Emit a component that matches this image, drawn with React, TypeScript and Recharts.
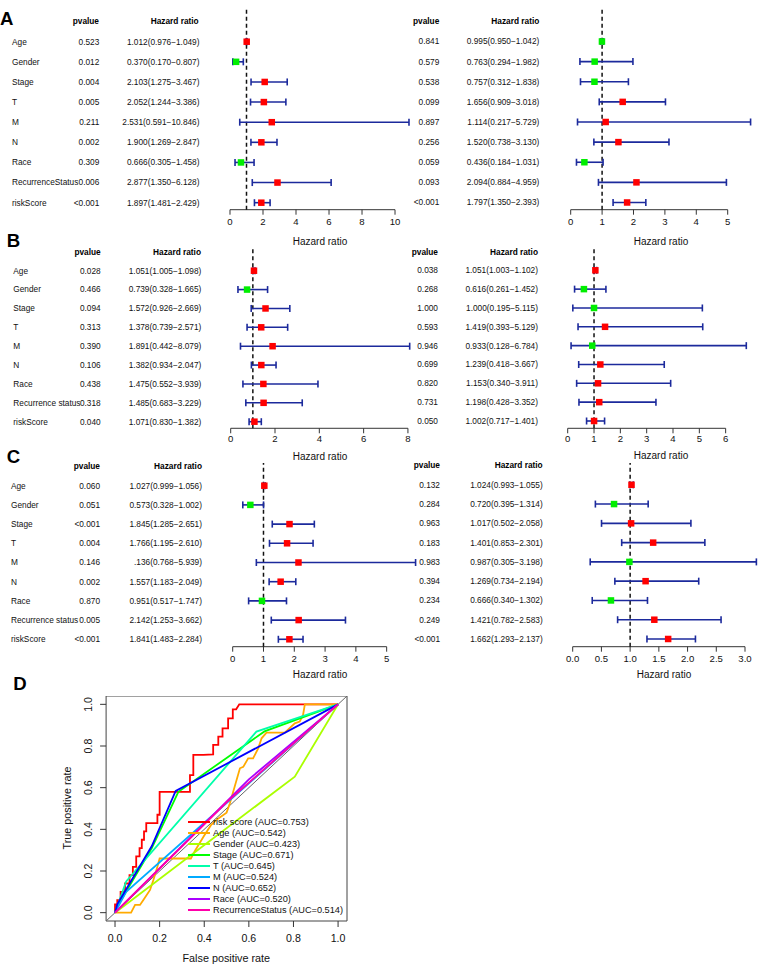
import React from 'react';
import {
  ScatterChart, Scatter, XAxis, YAxis, ErrorBar, ReferenceLine, ReferenceArea,
  LineChart, Line, Legend,
} from 'recharts';

const FONT = "'Liberation Sans', Arial, Helvetica, sans-serif";

// ---- forest plot data ----
const varsA = ['Age', 'Gender', 'Stage', 'T', 'M', 'N', 'Race', 'RecurrenceStatus', 'riskScore'];
const varsBC = ['Age', 'Gender', 'Stage', 'T', 'M', 'N', 'Race', 'Recurrence status', 'riskScore'];

// A - univariate / multivariate
const aUniP = ['0.523', '0.012', '0.004', '0.005', '0.211', '0.002', '0.309', '0.006', '<0.001'];
const aUniHR = [1.012, 0.370, 2.103, 2.052, 2.531, 1.900, 0.666, 2.877, 1.897];
const aUniLo = [0.976, 0.170, 1.275, 1.244, 0.591, 1.269, 0.305, 1.350, 1.481];
const aUniHi = [1.049, 0.807, 3.467, 3.386, 10.846, 2.847, 1.458, 6.128, 2.429];

const aMulP = ['0.841', '0.579', '0.538', '0.099', '0.897', '0.256', '0.059', '0.093', '<0.001'];
const aMulHR = [0.995, 0.763, 0.757, 1.656, 1.114, 1.520, 0.436, 2.094, 1.797];
const aMulLo = [0.950, 0.294, 0.312, 0.909, 0.217, 0.738, 0.184, 0.884, 1.350];
const aMulHi = [1.042, 1.982, 1.838, 3.018, 5.729, 3.130, 1.031, 4.959, 2.393];

// B
const bUniP = ['0.028', '0.466', '0.094', '0.313', '0.390', '0.106', '0.438', '0.318', '0.040'];
const bUniHR = [1.051, 0.739, 1.572, 1.378, 1.891, 1.382, 1.475, 1.485, 1.071];
const bUniLo = [1.005, 0.328, 0.926, 0.739, 0.442, 0.934, 0.552, 0.683, 0.830];
const bUniHi = [1.098, 1.665, 2.669, 2.571, 8.079, 2.047, 3.939, 3.229, 1.382];

const bMulP = ['0.038', '0.268', '1.000', '0.593', '0.946', '0.699', '0.820', '0.731', '0.050'];
const bMulHR = [1.051, 0.616, 1.000, 1.419, 0.933, 1.239, 1.153, 1.198, 1.002];
const bMulLo = [1.003, 0.261, 0.195, 0.393, 0.128, 0.418, 0.340, 0.428, 0.717];
const bMulHi = [1.102, 1.452, 5.115, 5.129, 6.784, 3.667, 3.911, 3.352, 1.401];

// C
const cUniP = ['0.060', '0.051', '<0.001', '0.004', '0.146', '0.002', '0.870', '0.005', '<0.001'];
const cUniHR = [1.027, 0.573, 1.845, 1.766, 2.136, 1.557, 0.951, 2.142, 1.841];
const cUniLo = [0.999, 0.328, 1.285, 1.195, 0.768, 1.183, 0.517, 1.253, 1.483];
const cUniHi = [1.056, 1.002, 2.651, 2.610, 5.939, 2.049, 1.747, 3.662, 2.284];

const cMulP = ['0.132', '0.284', '0.963', '0.183', '0.983', '0.394', '0.234', '0.249', '<0.001'];
const cMulHR = [1.024, 0.720, 1.017, 1.401, 0.987, 1.269, 0.666, 1.421, 1.662];
const cMulLo = [0.993, 0.395, 0.502, 0.853, 0.305, 0.734, 0.340, 0.782, 1.293];
const cMulHi = [1.055, 1.314, 2.058, 2.301, 3.198, 2.194, 1.302, 2.583, 2.137];

const fmtHR = (hr: number[], lo: number[], hi: number[]) =>
  hr.map((v, i) => `${v.toFixed(3)}(${lo[i].toFixed(3)}\u2212${hi[i].toFixed(3)})`);

const cUniText = fmtHR(cUniHR, cUniLo, cUniHi);
cUniText[4] = '.136(0.768\u22125.939)'; // printed this way in the figure

// ---- ROC data (FPR, TPR) ----
const rocRisk: [number, number][] = [
  [0, 0], [0, 0.04], [0.01, 0.04], [0.01, 0.06], [0.025, 0.06], [0.025, 0.1], [0.045, 0.1],
  [0.045, 0.14], [0.065, 0.14], [0.065, 0.18], [0.08, 0.18], [0.08, 0.22], [0.095, 0.22],
  [0.095, 0.27], [0.11, 0.27], [0.11, 0.31], [0.12, 0.31], [0.12, 0.35], [0.13, 0.35],
  [0.13, 0.39], [0.14, 0.39], [0.14, 0.43], [0.19, 0.43], [0.19, 0.47], [0.2, 0.47],
  [0.2, 0.58], [0.336, 0.58], [0.336, 0.66], [0.351, 0.66], [0.351, 0.757], [0.396, 0.757],
  [0.44, 0.76], [0.44, 0.805], [0.463, 0.805], [0.463, 0.845], [0.482, 0.845], [0.482, 0.885],
  [0.507, 0.885], [0.507, 0.933], [0.528, 0.933], [0.528, 0.976], [0.543, 0.976], [0.557, 1],
  [1, 1],
];
const rocAge: [number, number][] = [
  [0, 0], [0.072, 0], [0.09, 0.037], [0.112, 0.037], [0.127, 0.061], [0.157, 0.109],
  [0.172, 0.157], [0.19, 0.22], [0.2, 0.26], [0.34, 0.26], [0.36, 0.3], [0.4, 0.37],
  [0.43, 0.42], [0.46, 0.45], [0.5, 0.48], [0.515, 0.525], [0.56, 0.693], [0.575, 0.7],
  [0.597, 0.741], [0.619, 0.741], [0.642, 0.789], [0.657, 0.837], [0.679, 0.864],
  [0.761, 0.864], [0.806, 0.909], [0.828, 0.917], [0.843, 0.949], [0.851, 1], [1, 1],
];
const rocGender: [number, number][] = [[0, 0], [0.806, 0.653], [1, 1]];
const rocStage: [number, number][] = [[0, 0], [0.01, 0.03], [0.165, 0.31], [0.284, 0.58], [0.67, 0.87], [1, 1]];
const rocT: [number, number][] = [[0, 0], [0.05, 0.15], [0.634, 0.869], [1, 1]];
const rocM: [number, number][] = [[0, 0], [0.05, 0.1], [1, 1]];
const rocN: [number, number][] = [[0, 0], [0.01, 0.04], [0.165, 0.32], [0.272, 0.584], [1, 1]];
const rocRace: [number, number][] = [[0, 0], [0.6, 0.64], [1, 1]];
const rocRecur: [number, number][] = [[0, 0], [0.5, 0.53], [1, 1]];

const rocLabels = ['risk score', 'Age', 'Gender', 'Stage', 'T', 'M', 'N', 'Race', 'RecurrenceStatus'];
const rocAuc = ['0.753', '0.542', '0.423', '0.671', '0.645', '0.524', '0.652', '0.520', '0.514'];
const rocColors = ['#FF0000', '#FFAA00', '#AAFF00', '#00FF00', '#00FFAA', '#00AAFF', '#0000FF', '#AA00FF', '#FF00AA'];
const rocCurves = [rocRisk, rocAge, rocGender, rocStage, rocT, rocM, rocN, rocRace, rocRecur];
const rocTicks = [0, 0.2, 0.4, 0.6, 0.8, 1.0];

// ---- forest panel ----
type PanelCfg = {
  left: number; plotTop: number; rowFirst: number; rowLast: number; axisY: number;
  plotLeft: number; plotRight: number; ticks: number[]; digits: number; tickMargin: number;
  names?: string[]; nameX?: number; pX: number; hrX: number;
  p: string[]; hr: number[]; lo: number[]; hi: number[]; labels: string[];
};

const ForestPanel: React.FC<{ c: PanelCfg }> = ({ c }) => {
  const n = c.hr.length;
  const step = (c.rowLast - c.rowFirst) / (n - 1);
  const yDomain: [number, number] = [-(c.rowFirst - c.plotTop) / step, n - 1 + (c.axisY - c.rowLast) / step];
  const xMax = Math.max(...c.hi);
  const rows = c.hr.map((v, i) => ({ row: i, hr: v, err: [v - c.lo[i], c.hi[i] - v] }));
  const axisH = 22;
  const rightPad = 4;
  const width = c.plotRight - c.left + rightPad;
  const height = c.axisY - c.plotTop + axisH;
  const rowIdx = c.hr.map((_, i) => i);

  const rowTick = (props: any) => {
    const i = props.payload.value as number;
    const y = props.y;
    const t = { fontSize: 8.3, fontFamily: FONT, fill: '#111', dy: '0.35em' } as const;
    return (
      <g>
        {c.names && <text x={(c.nameX ?? 0) - c.left} y={y} textAnchor="start" {...t}>{c.names[i]}</text>}
        <text x={c.pX - c.left} y={y} textAnchor="end" {...t}>{c.p[i]}</text>
        <text x={c.hrX - c.left} y={y} textAnchor="end" {...t}>{c.labels[i]}</text>
      </g>
    );
  };

  const square = (props: any) => {
    const s = 6.5;
    const col = props.payload.hr > 1 ? '#FF0000' : '#00EE00';
    return <rect x={props.cx - s / 2} y={props.cy - s / 2} width={s} height={s} fill={col} />;
  };

  return (
    <div style={{ position: 'absolute', left: c.left, top: c.plotTop }}>
      <ScatterChart width={width} height={height} margin={{ top: 0, right: rightPad, bottom: 0, left: 0 }}>
        <XAxis
          type="number" dataKey="hr" domain={[0, xMax]} ticks={c.ticks} interval={0}
          tickFormatter={(v: number) => v.toFixed(c.digits)}
          axisLine={false} stroke="#333" tickSize={5} tickMargin={c.tickMargin} height={axisH}
          tick={{ fontSize: 9.6, fill: '#111', fontFamily: FONT }}
        />
        <YAxis
          type="number" dataKey="row" domain={yDomain} reversed ticks={rowIdx} interval={0}
          width={c.plotLeft - c.left} axisLine={false} tickLine={false} tick={rowTick}
        />
        <ReferenceLine
          segment={[{ x: 0, y: yDomain[1] }, { x: c.ticks[c.ticks.length - 1], y: yDomain[1] }]}
          stroke="#333" strokeWidth={1} ifOverflow="visible"
        />
        <ReferenceLine x={1} stroke="#111" strokeWidth={1.5} strokeDasharray="4 3" ifOverflow="visible" />
        <Scatter data={rows} isAnimationActive={false} shape={square}>
          <ErrorBar dataKey="err" direction="x" width={3.5} stroke="#1c2a9c" strokeWidth={1.6} />
        </Scatter>
      </ScatterChart>
    </div>
  );
};

const panels: PanelCfg[] = [
  {
    left: 0, plotTop: 8.3, rowFirst: 42, rowLast: 203, axisY: 210, plotLeft: 230, plotRight: 409,
    ticks: [0, 2, 4, 6, 8, 10], digits: 0, tickMargin: 3, names: varsA, nameX: 12, pX: 99.3, hrX: 199.5,
    p: aUniP, hr: aUniHR, lo: aUniLo, hi: aUniHi, labels: fmtHR(aUniHR, aUniLo, aUniHi),
  },
  {
    left: 380, plotTop: 8.3, rowFirst: 41.8, rowLast: 202.8, axisY: 210, plotLeft: 570.7, plotRight: 750.6,
    ticks: [0, 1, 2, 3, 4, 5], digits: 0, tickMargin: 3, pX: 439.3, hrX: 539.3,
    p: aMulP, hr: aMulHR, lo: aMulLo, hi: aMulHi, labels: fmtHR(aMulHR, aMulLo, aMulHi),
  },
  {
    left: 0, plotTop: 248, rowFirst: 270.7, rowLast: 421.7, axisY: 428.3, plotLeft: 230.7, plotRight: 409.7,
    ticks: [0, 2, 4, 6, 8], digits: 0, tickMargin: 2, names: varsBC, nameX: 13.3, pX: 100.7, hrX: 201.3,
    p: bUniP, hr: bUniHR, lo: bUniLo, hi: bUniHi, labels: fmtHR(bUniHR, bUniLo, bUniHi),
  },
  {
    left: 380, plotTop: 248, rowFirst: 270.3, rowLast: 421, axisY: 428.3, plotLeft: 567.7, plotRight: 746.3,
    ticks: [0, 1, 2, 3, 4, 5, 6], digits: 0, tickMargin: 2, pX: 438, hrX: 538,
    p: bMulP, hr: bMulHR, lo: bMulLo, hi: bMulHi, labels: fmtHR(bMulHR, bMulLo, bMulHi),
  },
  {
    left: 0, plotTop: 463, rowFirst: 485.7, rowLast: 639.3, axisY: 646.7, plotLeft: 232.7, plotRight: 415.6,
    ticks: [0, 1, 2, 3, 4, 5], digits: 0, tickMargin: 3, names: varsBC, nameX: 11, pX: 100, hrX: 202,
    p: cUniP, hr: cUniHR, lo: cUniLo, hi: cUniHi, labels: cUniText,
  },
  {
    left: 380, plotTop: 463, rowFirst: 484.8, rowLast: 639, axisY: 646.7, plotLeft: 572.7, plotRight: 756.4,
    ticks: [0, 0.5, 1, 1.5, 2, 2.5, 3], digits: 1, tickMargin: 3, pX: 440, hrX: 542.7,
    p: cMulP, hr: cMulHR, lo: cMulLo, hi: cMulHi, labels: fmtHR(cMulHR, cMulLo, cMulHi),
  },
];

// header rows and axis titles for each forest panel
const headers = [
  { y: 21.5, pX: 99, hrX: 198.7 }, { y: 21, pX: 439.3, hrX: 539.3 },
  { y: 251.7, pX: 100.7, hrX: 201 }, { y: 251.7, pX: 438, hrX: 538 },
  { y: 466, pX: 100, hrX: 202 }, { y: 465.5, pX: 440, hrX: 542.7 },
];
const axisTitles = [
  { x: 320, y: 241 }, { x: 661, y: 241 }, { x: 320, y: 456 },
  { x: 661, y: 455.5 }, { x: 320, y: 674.3 }, { x: 664, y: 674.3 },
];
const letters = [
  { t: 'A', x: 0, y: 25 }, { t: 'B', x: 6.7, y: 246.7 },
  { t: 'C', x: 6.7, y: 462.7 }, { t: 'D', x: 13.3, y: 690 },
];

const RocYTick = (props: any) => {
  const y = props.y;
  return (
    <text x={88.3} y={y} transform={`rotate(-90 88.3 ${y})`} textAnchor="middle" dy="0.35em"
      fontSize={10.6} fontFamily={FONT} fill="#111">
      {Number(props.payload.value).toFixed(1)}
    </text>
  );
};

const RocLegend = () => (
  <div style={{ fontFamily: FONT, fontSize: 9.2, color: '#111' }}>
    {rocLabels.map((l, i) => (
      <div key={l} style={{ display: 'flex', alignItems: 'center', height: 10.96, whiteSpace: 'nowrap' }}>
        <span style={{ display: 'inline-block', width: 22, borderTop: `2.2px solid ${rocColors[i]}`, marginRight: 3 }} />
        <span>{`${l} (AUC=${rocAuc[i]})`}</span>
      </div>
    ))}
  </div>
);

const RocPanel: React.FC = () => {
  const top = 696;
  return (
    <div style={{ position: 'absolute', left: 0, top }}>
      <LineChart width={353} height={265} margin={{ top: 0, right: 6, bottom: 0, left: 0 }}>
        <XAxis
          type="number" dataKey="x" domain={[-0.04, 1.04]} ticks={rocTicks} interval={0}
          tickFormatter={(v: number) => v.toFixed(1)} axisLine={false} stroke="#333"
          tickSize={6} tickMargin={7} height={40}
          tick={{ fontSize: 10.6, fill: '#111', fontFamily: FONT }}
        />
        <YAxis
          type="number" dataKey="y" domain={[-0.04, 1.04]} ticks={rocTicks} interval={0}
          axisLine={false} stroke="#333" tickSize={6} width={106.1} tick={<RocYTick />}
        />
        <ReferenceArea x1={-0.04} x2={1.04} y1={-0.04} y2={1.04} fill="none" fillOpacity={0}
          stroke="#444" strokeWidth={1} ifOverflow="visible" />
        <ReferenceLine segment={[{ x: -0.04, y: -0.04 }, { x: 1.04, y: 1.04 }]} stroke="#666" strokeWidth={1} ifOverflow="visible" />
        {rocCurves.map((pts, i) => (
          <Line
            key={rocLabels[i]} data={pts.map(([x, y]) => ({ x, y }))} dataKey="y"
            name={`${rocLabels[i]} (AUC=${rocAuc[i]})`} type="linear" stroke={rocColors[i]}
            strokeWidth={1.8} dot={false} activeDot={false} isAnimationActive={false}
          />
        ))}
        <Legend layout="vertical" align="center" verticalAlign="middle" content={<RocLegend />}
          wrapperStyle={{ left: 188, top: 822.3 - top - 5.48, width: 'auto' }} />
      </LineChart>
    </div>
  );
};

export default function App() {
  return (
    <div style={{ position: 'absolute', left: 0, top: 0, width: 759, height: 968, background: '#fff', overflow: 'hidden', fontFamily: FONT }}>
      {panels.map((c, i) => <ForestPanel key={i} c={c} />)}
      <RocPanel />
      <svg width={759} height={968} style={{ position: 'absolute', left: 0, top: 0, pointerEvents: 'none' }}>
        {letters.map((l) => (
          <text key={l.t} x={l.x} y={l.y} fontSize={18.6} fontWeight="bold" fontFamily={FONT} fill="#000">{l.t}</text>
        ))}
        {headers.map((h, i) => (
          <g key={i} fontSize={8.3} fontWeight="bold" fontFamily={FONT} fill="#000">
            <text x={h.pX} y={h.y} dy="0.35em" textAnchor="end">pvalue</text>
            <text x={h.hrX} y={h.y} dy="0.35em" textAnchor="end">Hazard ratio</text>
          </g>
        ))}
        {axisTitles.map((a, i) => (
          <text key={i} x={a.x} y={a.y} dy="0.35em" textAnchor="middle" fontSize={10} fontFamily={FONT} fill="#111">Hazard ratio</text>
        ))}
        <text x={226.3} y={958} dy="0.35em" textAnchor="middle" fontSize={10.8} fontFamily={FONT} fill="#111">False positive rate</text>
        <text x={67} y={808} dy="0.35em" textAnchor="middle" fontSize={10.8} fontFamily={FONT} fill="#111"
          transform="rotate(-90 67 808)">True positive rate</text>
      </svg>
    </div>
  );
}
